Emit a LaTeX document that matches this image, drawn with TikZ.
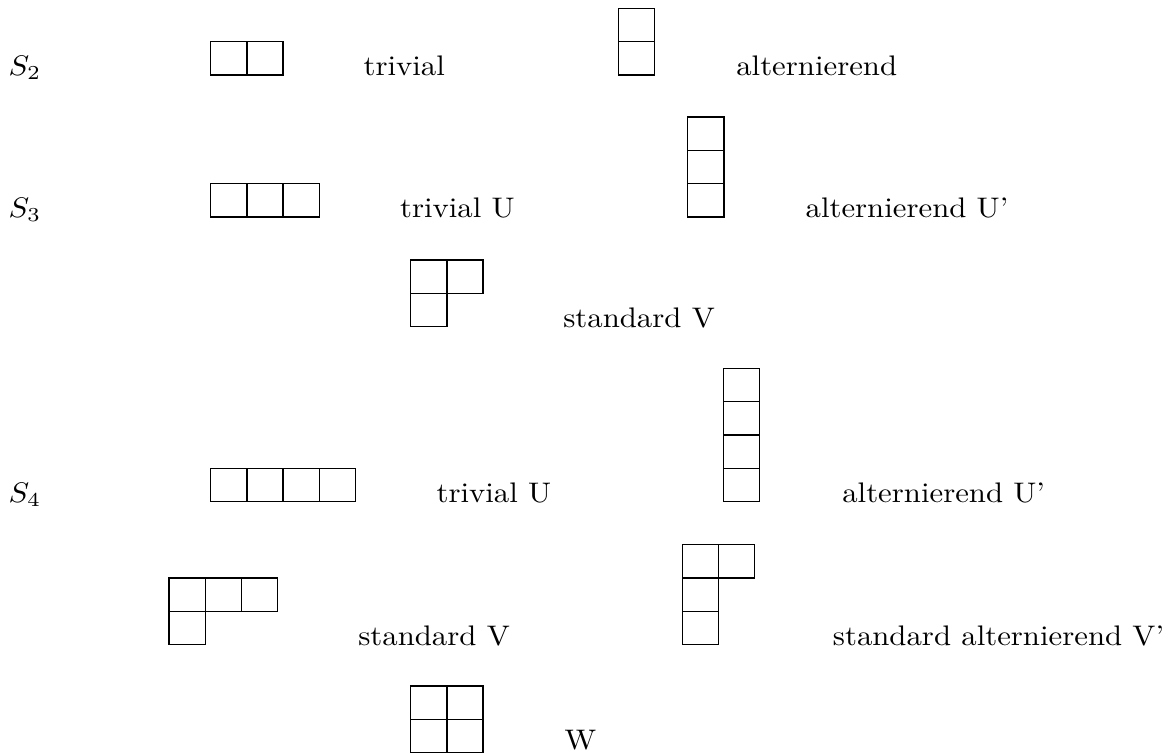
\documentclass[tikz,border=0pt]{standalone}
\usepackage{graphicx}
\newcommand\sqz[1]{\scalebox{1}[0.92]{#1}}
\begin{document}
\begin{tikzpicture}[x=0.3251pt,y=-0.3251pt,
  cellst/.style={draw=black,line width=0.4pt},
  lbl/.style={inner sep=0pt,anchor=base west,font=\normalsize}]
\useasboundingbox (0,0) rectangle (1173,753);
\def\cw{36.2}\def\ch{33.33}
\newcommand\ycell[2]{\draw[cellst] (#1,#2) rectangle ++(\cw,\ch);}
% ---- S2 ----
\node[lbl] (s2) at (8,75) {\sqz{$S_2$}};
\foreach \i in {0,1} {\ycell{210.7+\i*\cw}{41.7}}
\node[lbl] (s2triv) at (363,75) {\sqz{trivial}};
\foreach \j in {0,1} {\ycell{618.3}{8.3+\j*\ch}}
\node[lbl] (s2alt) at (735.7,75) {\sqz{alternierend}};
% ---- S3 ----
\node[lbl] (s3) at (8,217) {\sqz{$S_3$}};
\foreach \i in {0,1,2} {\ycell{210.7+\i*\cw}{183.7}}
\node[lbl] (s3triv) at (399.5,217) {\sqz{trivial U}};
\foreach \j in {0,1,2} {\ycell{687.7}{117+\j*\ch}}
\node[lbl] (s3alt) at (805,217) {\sqz{alternierend U'}};
\foreach \i in {0,1} {\ycell{410.7+\i*\cw}{260}}
\ycell{410.7}{293.3}
\node[lbl] (s3std) at (562.7,327) {\sqz{standard V}};
% ---- S4 ----
\node[lbl] (s4) at (8,502) {\sqz{$S_4$}};
\foreach \i in {0,1,2,3} {\ycell{210.7+\i*\cw}{468.3}}
\node[lbl] (s4triv) at (436,502) {\sqz{trivial U}};
\foreach \j in {0,1,2,3} {\ycell{723.3}{368.3+\j*\ch}}
\node[lbl] (s4alt) at (841.7,502) {\sqz{alternierend U'}};
\foreach \i in {0,1,2} {\ycell{169+\i*\cw}{578}}
\ycell{169}{611.3}
\node[lbl] (s4std) at (357.7,645) {\sqz{standard V}};
\foreach \i in {0,1} {\ycell{682.3+\i*\cw}{544.7}}
\ycell{682.3}{578}
\ycell{682.3}{611.3}
\node[lbl] (s4stdalt) at (832.3,645) {\sqz{standard alternierend V'}};
\foreach \i in {0,1} {\foreach \j in {0,1} {\ycell{410.7+\i*\cw}{686+\j*\ch}}}
\node[lbl] (s4w) at (564,749.5) {\sqz{W}};
\end{tikzpicture}
\end{document}
